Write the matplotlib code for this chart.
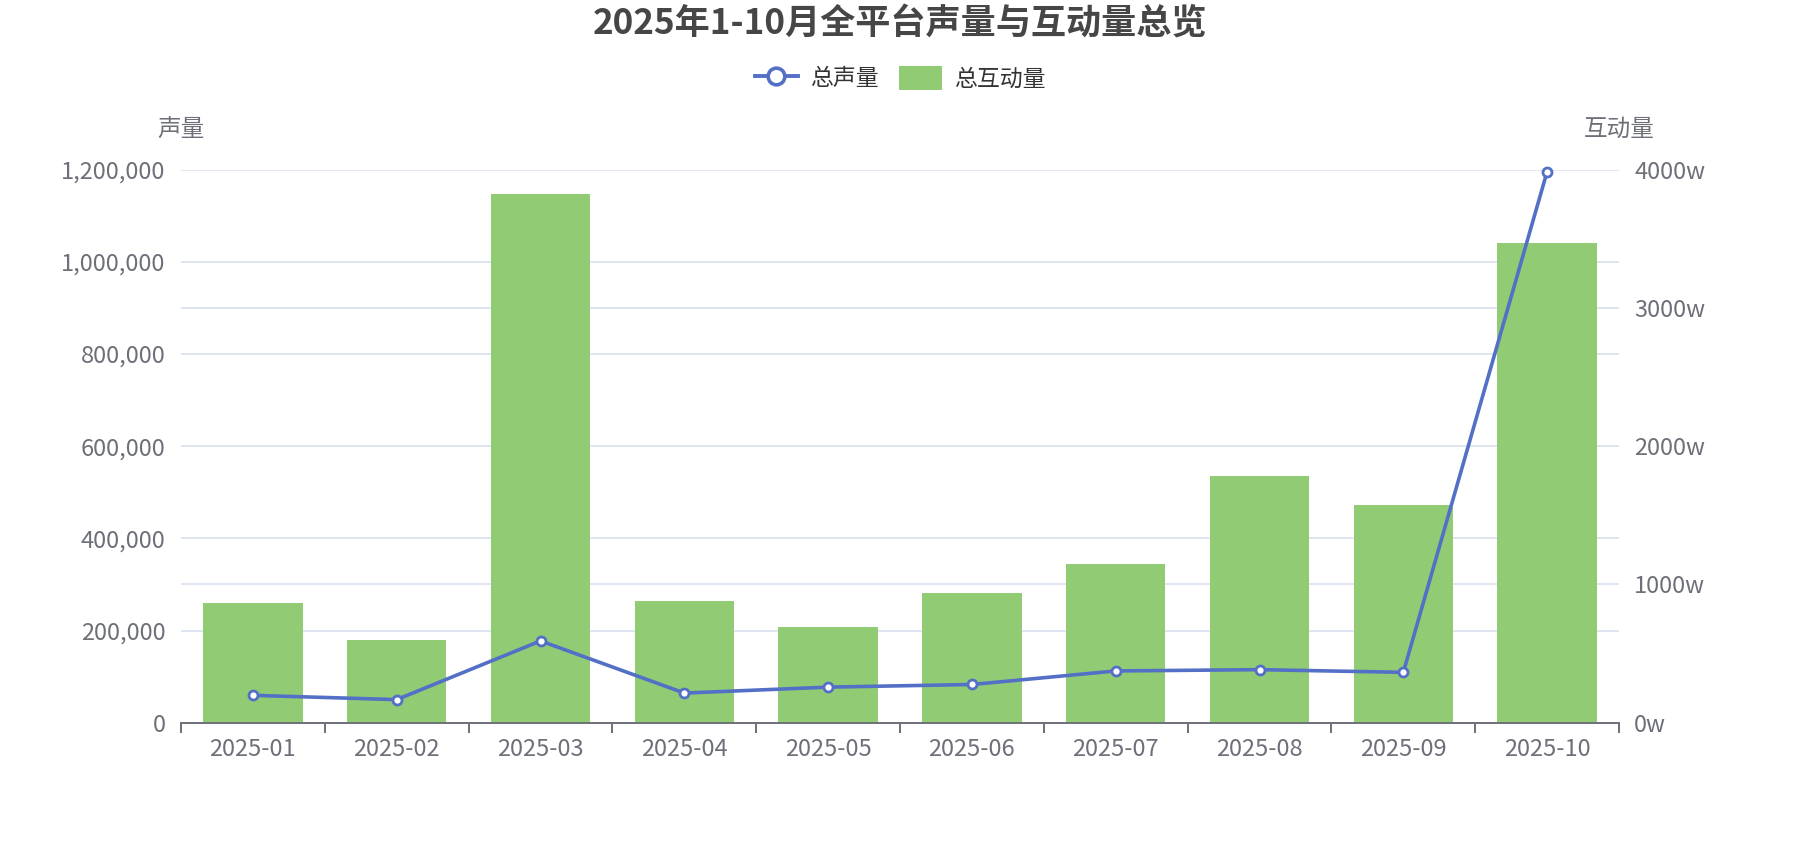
import matplotlib
matplotlib.use("Agg")
import matplotlib.pyplot as plt
import matplotlib.transforms as mtransforms
from matplotlib.lines import Line2D
from matplotlib.patches import Patch
from matplotlib.ticker import FuncFormatter, MultipleLocator, FixedLocator

plt.rcParams["font.family"] = ["Noto Sans CJK SC", "DejaVu Sans"]

MONTHS = ["2025-01", "2025-02", "2025-03", "2025-04", "2025-05",
          "2025-06", "2025-07", "2025-08", "2025-09", "2025-10"]
# 总声量 (left axis)
VOLUME = [59400, 50100, 177500, 64300, 77200, 82900, 112300, 115100, 109300, 1195700]
# 总互动量, in 万 (right axis)
INTERACTIONS = [864, 598, 3824, 882, 692, 936, 1146, 1784, 1572, 3472]

TITLE = "2025年1-10月全平台声量与互动量总览"
LINE_COLOR = "#5470c6"
BAR_COLOR = "#91cc75"
AXIS_COLOR = "#6e7079"
GRID_COLOR = "#e0e6f1"

W, H = 1800, 849


def main():
    fig = plt.figure(figsize=(W / 100, H / 100), dpi=100)
    left, right, top, bottom = 181, 1619, 169.7, 722.7
    ax = fig.add_axes([left / W, 1 - bottom / H, (right - left) / W, (bottom - top) / H])
    ax_line = ax.twinx()

    x = list(range(len(MONTHS)))

    # bars on the right (互动量) axis
    ax.bar(x, INTERACTIONS, width=0.69, color=BAR_COLOR, zorder=2)
    ax.set_ylim(0, 4000)
    ax.yaxis.set_major_locator(MultipleLocator(1000))
    ax.yaxis.set_major_formatter(FuncFormatter(lambda v, p: f"{int(v)}w"))
    ax.yaxis.tick_right()

    # line on the left (声量) axis
    ax_line.plot(x, VOLUME, color=LINE_COLOR, lw=2.6, marker="o", ms=6.5,
                 mfc="white", mec=LINE_COLOR, mew=2.0, zorder=3, clip_on=False)
    ax_line.set_ylim(0, 1200000)
    ax_line.yaxis.set_major_locator(MultipleLocator(200000))
    ax_line.yaxis.set_major_formatter(FuncFormatter(lambda v, p: f"{int(v):,}"))
    ax_line.yaxis.tick_left()

    # gridlines of both scales, drawn under the bars
    for t in ax.get_yticks():
        ax.axhline(t, color=GRID_COLOR, lw=1.4, zorder=0)
    blend = mtransforms.blended_transform_factory(ax.transAxes, ax_line.transData)
    for t in ax_line.get_yticks():
        ax.plot([0, 1], [t, t], transform=blend, color=GRID_COLOR, lw=1.4, zorder=0)

    ax.set_xlim(-0.5, len(MONTHS) - 0.5)
    ax.xaxis.set_major_locator(FixedLocator(x))
    ax.set_xticklabels(MONTHS)
    ax.xaxis.set_minor_locator(FixedLocator([i - 0.5 for i in range(len(MONTHS) + 1)]))
    ax.tick_params(axis="x", which="major", length=0, pad=11, labelsize=17, labelcolor=AXIS_COLOR)
    ax.tick_params(axis="x", which="minor", length=7, width=1.4, color=AXIS_COLOR)
    ax.tick_params(axis="y", length=0, pad=11, labelsize=17, labelcolor=AXIS_COLOR)
    ax_line.tick_params(axis="y", length=0, pad=11, labelsize=17, labelcolor=AXIS_COLOR)

    for a in (ax, ax_line):
        for s in a.spines.values():
            s.set_visible(False)
    ax.spines["bottom"].set_visible(True)
    ax.spines["bottom"].set_color(AXIS_COLOR)
    ax.spines["bottom"].set_linewidth(1.4)
    ax.spines["bottom"].set_zorder(4)

    # axis names
    fig.text(left / W, 1 - 129 / H, "声量", ha="center", va="center", fontsize=17, color=AXIS_COLOR)
    fig.text(right / W, 1 - 129 / H, "互动量", ha="center", va="center", fontsize=17, color=AXIS_COLOR)

    fig.text(0.5, 1 - 24 / H, TITLE, ha="center", va="center", fontsize=25.3,
             fontweight="bold", color="#464646")

    handles = [
        Line2D([], [], color=LINE_COLOR, lw=2.8, marker="o", ms=12, mfc="white",
               mec=LINE_COLOR, mew=2.6),
        Patch(facecolor=BAR_COLOR, edgecolor="none"),
    ]
    fig.legend(handles, ["总声量", "总互动量"], loc="center", bbox_to_anchor=(0.5, 1 - 78 / H),
               ncol=2, frameon=False, fontsize=16.5, labelcolor="#333333",
               handlelength=1.9, handleheight=1.25, handletextpad=0.5, columnspacing=0.9)

    fig.savefig("out.png", dpi=100, facecolor="white")


if __name__ == "__main__":
    main()
